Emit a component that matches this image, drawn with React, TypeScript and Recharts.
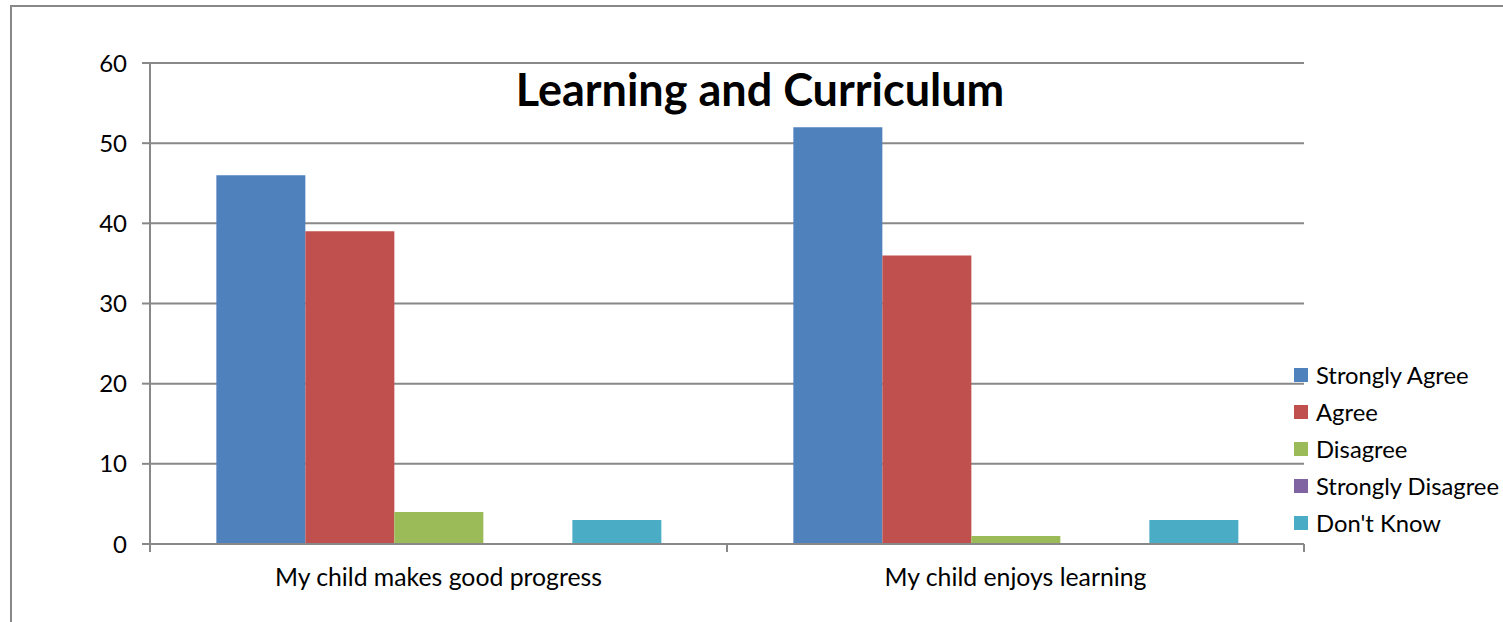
import React from "react";
import { BarChart, Bar, XAxis, YAxis, CartesianGrid } from "recharts";

const CATEGORIES = ["My child makes good progress", "My child enjoys learning"];
const SERIES = ["Strongly Agree", "Agree", "Disagree", "Strongly Disagree", "Don't Know"];
const COLORS = ["#4F81BD", "#C0504D", "#9BBB59", "#8064A2", "#4BACC6"];
const STRONGLY_AGREE = [46, 52];
const AGREE = [39, 36];
const DISAGREE = [4, 1];
const STRONGLY_DISAGREE = [0, 0];
const DONT_KNOW = [3, 3];
const Y_TICKS = [0, 10, 20, 30, 40, 50, 60];

const VALUES = [STRONGLY_AGREE, AGREE, DISAGREE, STRONGLY_DISAGREE, DONT_KNOW];

const data = CATEGORIES.map((name, i) => {
  const row: Record<string, string | number> = { name };
  SERIES.forEach((s, j) => {
    row[s] = VALUES[j][i];
  });
  return row;
});

const FONT = "Lato, 'Open Sans', sans-serif";
const AXIS = "#888888";
const BAND = (1304 - 150) / CATEGORIES.length;

function CategoryTick(props: any) {
  const { x, y, payload } = props;
  return (
    <g>
      <line x1={x - BAND / 2} y1={y - 8} x2={x - BAND / 2} y2={y} stroke={AXIS} strokeWidth={2} />
      <line x1={x + BAND / 2} y1={y - 8} x2={x + BAND / 2} y2={y} stroke={AXIS} strokeWidth={2} />
      <text x={x} y={y + 34} textAnchor="middle" fontSize={24.8} fill="#000" fontFamily={FONT}>
        {payload.value}
      </text>
    </g>
  );
}

function LegendBox() {
  return (
    <div style={{ position: "absolute", left: 1294, top: 356, fontFamily: FONT, fontSize: 23.8 }}>
      {SERIES.map((s, i) => (
        <div key={s} style={{ display: "flex", alignItems: "center", height: 37, whiteSpace: "nowrap" }}>
          <span style={{ width: 14, height: 14, background: COLORS[i], display: "inline-block", marginRight: 8 }} />
          <span>{s}</span>
        </div>
      ))}
    </div>
  );
}

export default function App() {
  return (
    <div style={{ position: "absolute", left: 0, top: 0, width: 1503, height: 622, background: "#fff", overflow: "hidden" }}>
      <div style={{ position: "absolute", left: 10, top: 5, width: 1493, height: 617, borderTop: "2px solid #888", borderLeft: "2px solid #888" }} />
      <BarChart
        width={1503}
        height={622}
        data={data}
        margin={{ top: 63, right: 199, bottom: 38, left: 90 }}
        barCategoryGap="11.5%"
        barGap={0}
      >
        <CartesianGrid vertical={false} stroke={AXIS} strokeWidth={2} />
        <XAxis
          dataKey="name"
          axisLine={{ stroke: AXIS, strokeWidth: 2 }}
          tickLine={false}
          tick={<CategoryTick />}
          height={40}
          interval={0}
        />
        <YAxis
          domain={[0, 60]}
          ticks={Y_TICKS}
          width={60}
          axisLine={{ stroke: AXIS, strokeWidth: 2 }}
          tickLine={{ stroke: AXIS, strokeWidth: 2 }}
          tickSize={8}
          tick={{ fontSize: 24, fill: "#000", fontFamily: FONT }}
          tickMargin={15}
        />
        {SERIES.map((s, i) => (
          <Bar key={s} dataKey={s} fill={COLORS[i]} isAnimationActive={false} />
        ))}
      </BarChart>
      <div style={{ position: "absolute", left: 0, width: 1520, top: 62, textAlign: "center", fontFamily: FONT, fontWeight: 700, fontSize: 45 }}>
        Learning and Curriculum
      </div>
      <LegendBox />
    </div>
  );
}
